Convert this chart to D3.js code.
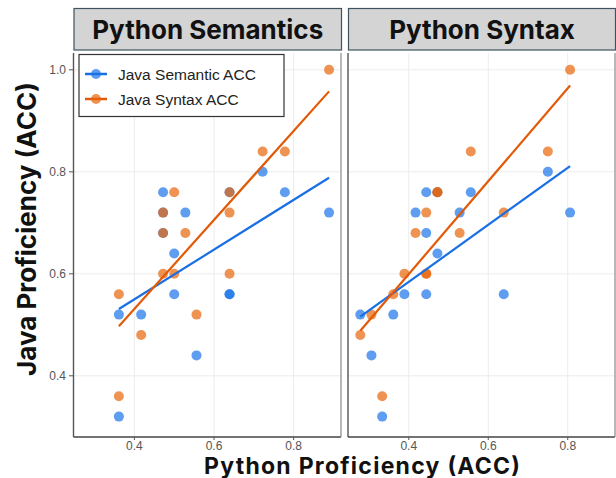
<!DOCTYPE html>
<html>
<head>
<meta charset="utf-8">
<script src="https://cdn.jsdelivr.net/npm/d3@7"></script>
<style>
  body { margin: 0; background: #fff; }
  svg { display: block; font-family: "Liberation Sans", Arial, sans-serif; }
  .title { font-family: Inter, "Liberation Sans", Arial, sans-serif; font-weight: 700; }
</style>
</head>
<body>
<svg id="chart" width="616" height="478"></svg>
<script>
// facet names and series names
const panelNames = ["Python Semantics", "Python Syntax"];
const seriesNames = ["Java Semantic ACC", "Java Syntax ACC"];

// Python Semantics panel
const semPanelX_sem = [0.472, 0.722, 0.639, 0.778, 0.472, 0.528, 0.889, 0.472, 0.5, 0.5, 0.639, 0.639, 0.361, 0.417, 0.556, 0.361];
const semPanelY_sem = [0.76, 0.80, 0.76, 0.76, 0.72, 0.72, 0.72, 0.68, 0.64, 0.56, 0.56, 0.56, 0.52, 0.52, 0.44, 0.32];
const semPanelX_syn = [0.889, 0.722, 0.778, 0.5, 0.639, 0.472, 0.639, 0.472, 0.528, 0.472, 0.5, 0.639, 0.361, 0.556, 0.417, 0.361];
const semPanelY_syn = [1.00, 0.84, 0.84, 0.76, 0.76, 0.72, 0.72, 0.68, 0.68, 0.60, 0.60, 0.60, 0.56, 0.52, 0.48, 0.36];

// Python Syntax panel
const synPanelX_sem = [0.75, 0.444, 0.472, 0.556, 0.417, 0.528, 0.806, 0.444, 0.472, 0.389, 0.444, 0.639, 0.278, 0.361, 0.306, 0.333];
const synPanelY_sem = [0.80, 0.76, 0.76, 0.76, 0.72, 0.72, 0.72, 0.68, 0.64, 0.56, 0.56, 0.56, 0.52, 0.52, 0.44, 0.32];
const synPanelX_syn = [0.806, 0.556, 0.75, 0.472, 0.472, 0.444, 0.639, 0.417, 0.528, 0.389, 0.444, 0.444, 0.361, 0.306, 0.278, 0.333];
const synPanelY_syn = [1.00, 0.84, 0.84, 0.76, 0.76, 0.72, 0.72, 0.68, 0.68, 0.60, 0.60, 0.60, 0.56, 0.52, 0.48, 0.36];

const xTicks = [0.4, 0.6, 0.8];
const yTicks = [0.4, 0.6, 0.8, 1.0];
const xTitle = "Python Proficiency (ACC)";
const yTitle = "Java Proficiency (ACC)";

const colors = ["#1a73e8", "#e8650a"];
const lineColors = ["#1b6fe4", "#e25a08"];

const panels = [
  { name: panelNames[0], left: 73.5, right: 341,
    series: [{ x: semPanelX_sem, y: semPanelY_sem }, { x: semPanelX_syn, y: semPanelY_syn }] },
  { name: panelNames[1], left: 348, right: 615,
    series: [{ x: synPanelX_sem, y: synPanelY_sem }, { x: synPanelX_syn, y: synPanelY_syn }] }
];
const pTop = 53, pBottom = 437;

const svg = d3.select("#chart");
const y = d3.scaleLinear().domain([0.28, 1.033]).range([pBottom, pTop]);

// least squares fit
function fit(xs, ys) {
  const mx = d3.mean(xs), my = d3.mean(ys);
  let sxy = 0, sxx = 0;
  xs.forEach((v, i) => { sxy += (v - mx) * (ys[i] - my); sxx += (v - mx) * (v - mx); });
  const b = sxy / sxx;
  return v => my + b * (v - mx);
}

panels.forEach(p => {
  const x = d3.scaleLinear().domain([0.247, 0.919]).range([p.left, p.right]);
  const g = svg.append("g");

  // grid
  g.append("g").selectAll("line").data(xTicks).join("line")
    .attr("x1", d => x(d)).attr("x2", d => x(d))
    .attr("y1", pTop).attr("y2", pBottom)
    .attr("stroke", "#ececec").attr("stroke-width", 1);
  g.append("g").selectAll("line").data(yTicks).join("line")
    .attr("x1", p.left).attr("x2", p.right)
    .attr("y1", d => y(d)).attr("y2", d => y(d))
    .attr("stroke", "#ececec").attr("stroke-width", 1);

  // points, semantic first then syntax
  p.series.forEach((s, si) => {
    g.append("g").selectAll("circle")
      .data(s.x.map((v, i) => [v, s.y[i]]))
      .join("circle")
      .attr("cx", d => x(d[0]))
      .attr("cy", d => y(d[1]))
      .attr("r", 5)
      .attr("fill", colors[si])
      .attr("fill-opacity", 0.7);
  });

  // regression lines
  p.series.forEach((s, si) => {
    const f = fit(s.x, s.y);
    const ext = d3.extent(s.x);
    g.append("line")
      .attr("x1", x(ext[0])).attr("y1", y(f(ext[0])))
      .attr("x2", x(ext[1])).attr("y2", y(f(ext[1])))
      .attr("stroke", lineColors[si]).attr("stroke-width", 2.2);
  });

  // frame
  g.append("line").attr("x1", p.left).attr("x2", p.left).attr("y1", pTop).attr("y2", pBottom)
    .attr("stroke", "#555").attr("stroke-width", 1.4);
  g.append("line").attr("x1", p.left).attr("x2", p.right).attr("y1", pBottom).attr("y2", pBottom)
    .attr("stroke", "#444").attr("stroke-width", 1.4);
  g.append("line").attr("x1", p.right).attr("x2", p.right).attr("y1", pTop).attr("y2", pBottom)
    .attr("stroke", "#888").attr("stroke-width", 1.2);

  // x axis ticks and labels
  g.append("g").selectAll("line").data(xTicks).join("line")
    .attr("x1", d => x(d)).attr("x2", d => x(d))
    .attr("y1", pBottom).attr("y2", pBottom + 3)
    .attr("stroke", "#555");
  g.append("g").selectAll("text").data(xTicks).join("text")
    .attr("x", d => x(d)).attr("y", pBottom + 13)
    .attr("text-anchor", "middle")
    .attr("font-size", 12).attr("fill", "#555")
    .text(d => d.toFixed(1));

  // strip
  g.append("rect")
    .attr("x", p.left + 0.5).attr("y", 8.5)
    .attr("width", p.right - p.left).attr("height", 41.5)
    .attr("fill", "#d4d4d4").attr("stroke", "#3f5260").attr("stroke-width", 1.2);
  g.append("text")
    .attr("class", "title")
    .attr("x", (p.left + p.right) / 2 + 0.5).attr("y", 38.5)
    .attr("text-anchor", "middle")
    .attr("font-size", 26).attr("fill", "#111")
    .text(p.name);
});

// y axis (only left panel)
const ya = svg.append("g");
ya.selectAll("line").data(yTicks).join("line")
  .attr("x1", 69).attr("x2", 73.5)
  .attr("y1", d => y(d)).attr("y2", d => y(d))
  .attr("stroke", "#555");
ya.selectAll("text").data(yTicks).join("text")
  .attr("x", 66).attr("y", d => y(d) + 4)
  .attr("text-anchor", "end")
  .attr("font-size", 12).attr("fill", "#555")
  .text(d => d.toFixed(1));

// axis titles
svg.append("text")
  .attr("class", "title")
  .attr("x", 362).attr("y", 473.5)
  .attr("text-anchor", "middle")
  .attr("font-size", 23).attr("fill", "#111")
  .attr("textLength", 316).attr("lengthAdjust", "spacing")
  .text(xTitle);
svg.append("text")
  .attr("class", "title")
  .attr("transform", "translate(36,229) rotate(-90)")
  .attr("text-anchor", "middle")
  .attr("font-size", 26).attr("fill", "#111")
  .text(yTitle);

// legend
const lg = svg.append("g");
lg.append("rect")
  .attr("x", 79).attr("y", 54.5).attr("width", 205).attr("height", 62)
  .attr("fill", "#fff").attr("stroke", "#333").attr("stroke-width", 1.2);
seriesNames.forEach((n, i) => {
  const cy = 74 + i * 25;
  lg.append("line").attr("x1", 85).attr("x2", 107).attr("y1", cy).attr("y2", cy)
    .attr("stroke", lineColors[i]).attr("stroke-width", 2.5);
  lg.append("circle").attr("cx", 96).attr("cy", cy).attr("r", 5)
    .attr("fill", colors[i]).attr("fill-opacity", 0.7);
  lg.append("text").attr("x", 118).attr("y", cy + 5.5)
    .attr("font-size", 15.5).attr("fill", "#222")
    .text(n);
});
</script>
</body>
</html>
